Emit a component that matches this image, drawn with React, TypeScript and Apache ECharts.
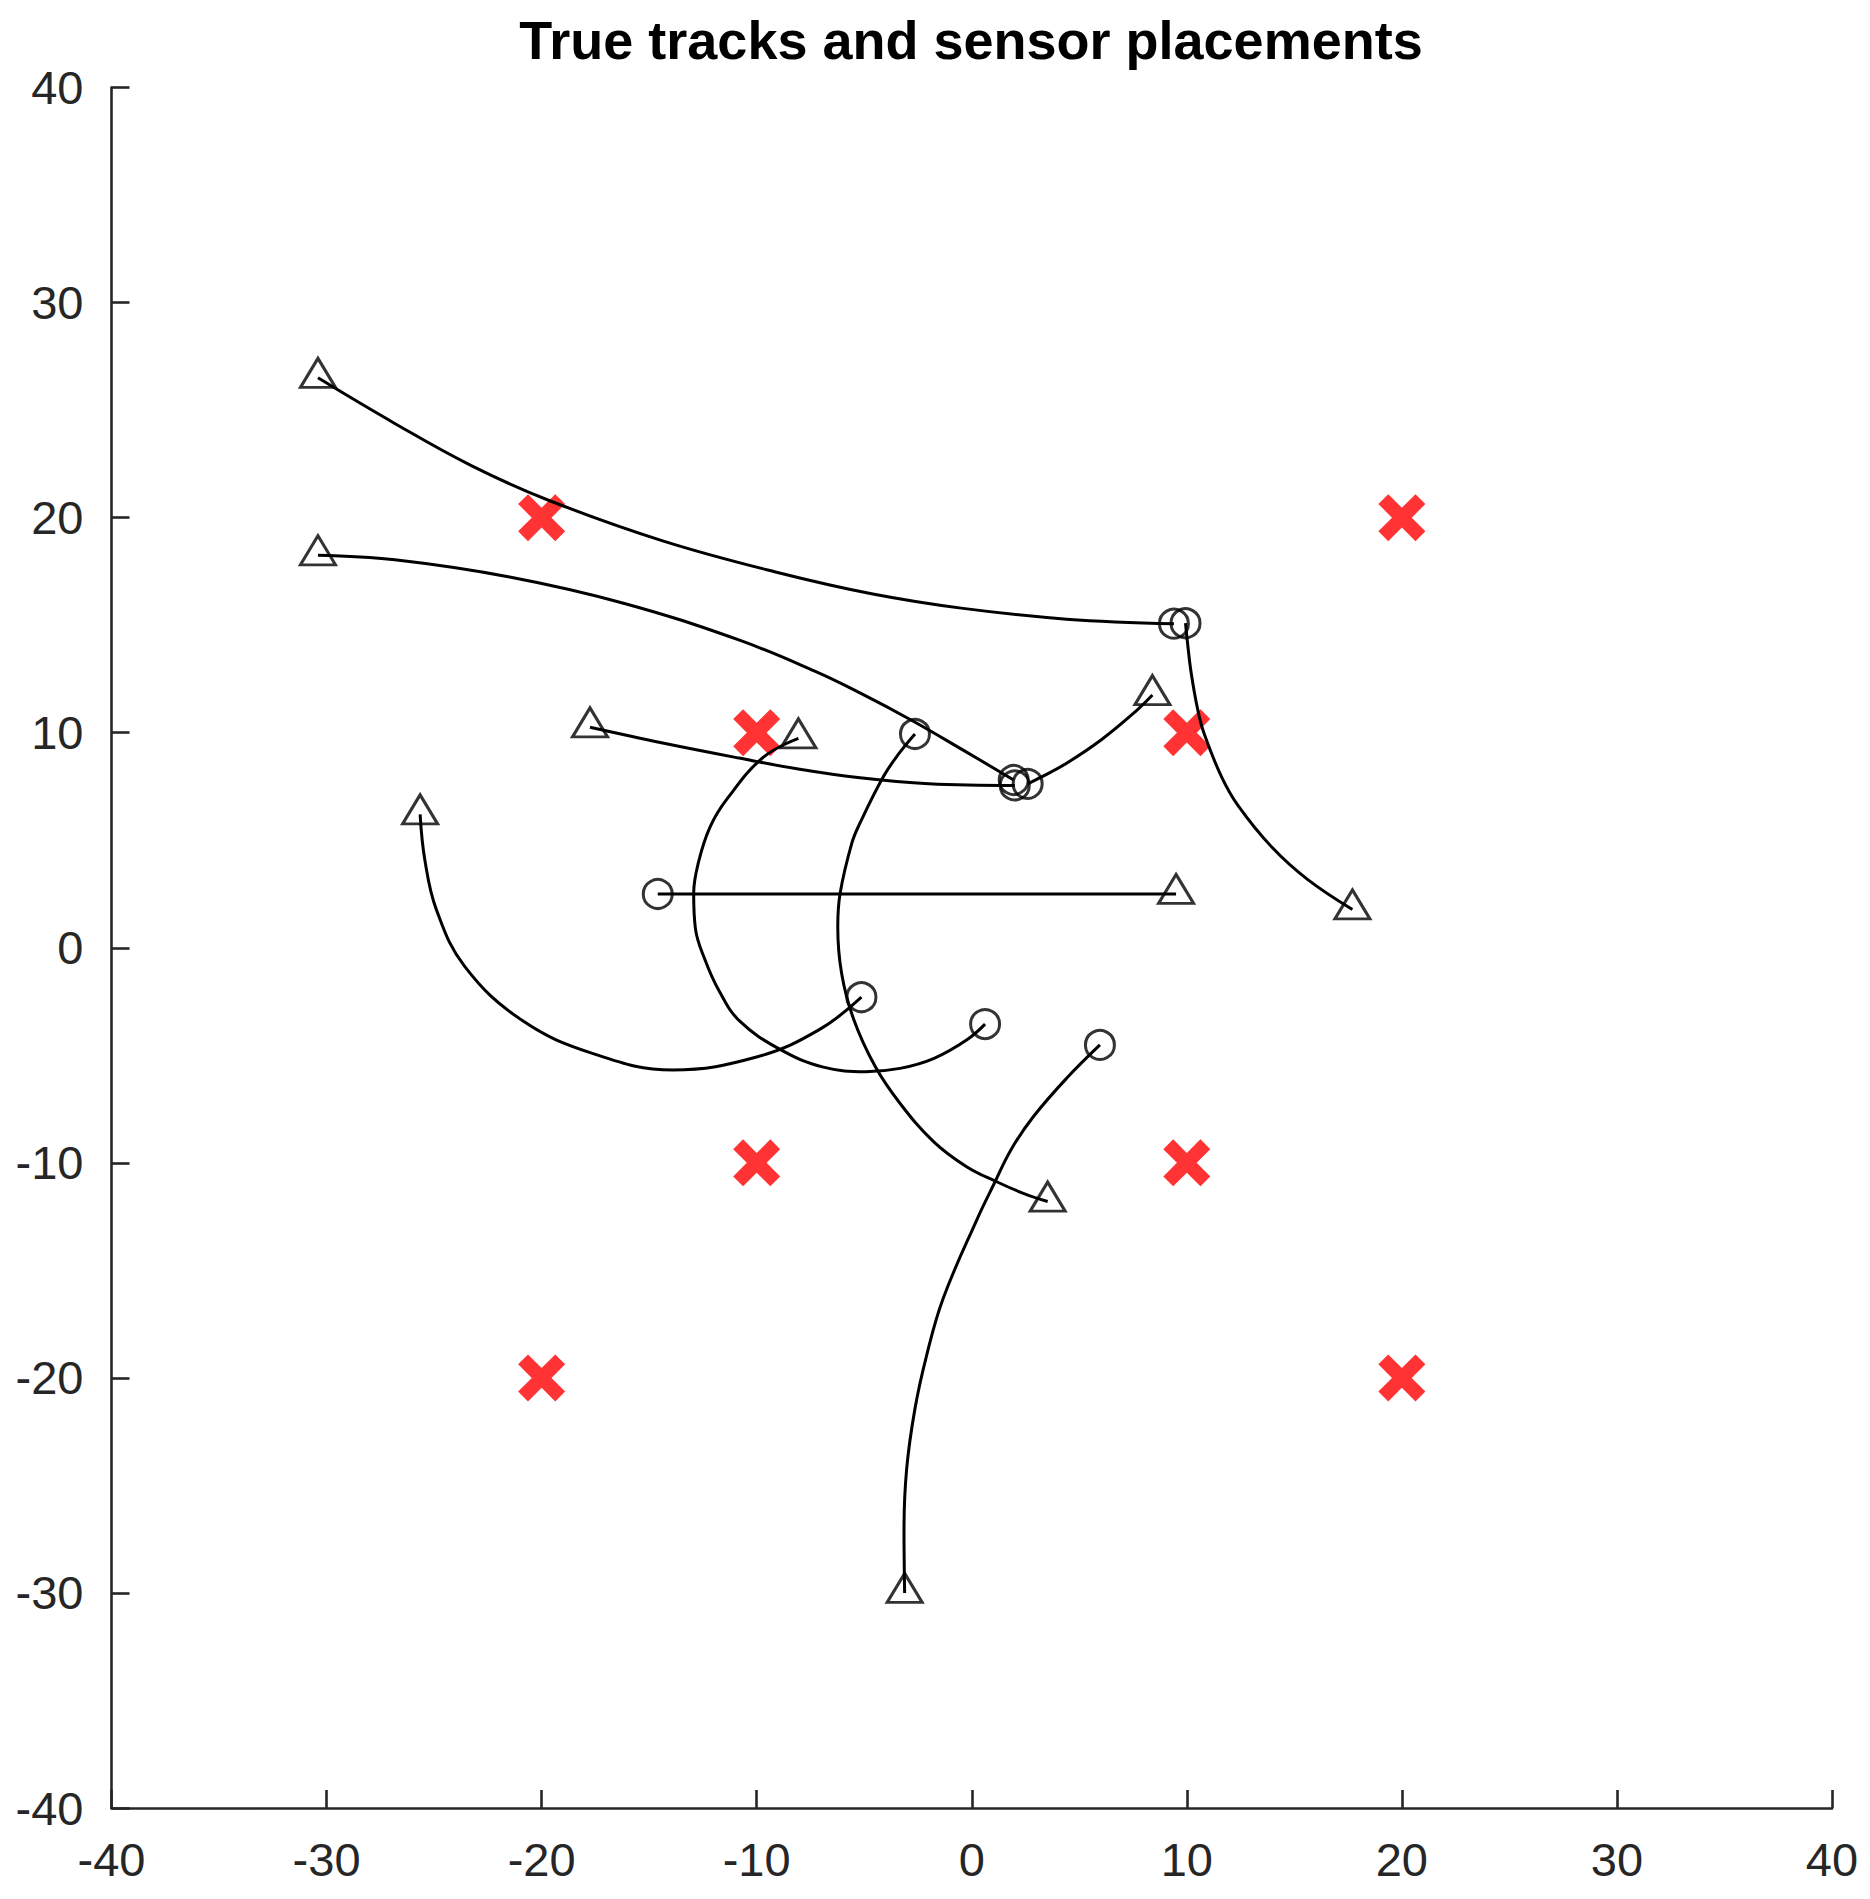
import React, { useEffect, useRef } from "react";
import * as echarts from "echarts";

// Sensor placements (red X)
const sensorX = [-20, 20, -10, 10, -10, 10, -20, 20];
const sensorY = [20, 20, 10, 10, -10, -10, -20, -20];

// True tracks: each starts at a circle and ends at a triangle
const trackA = [[9.4, 15.07], [4.41, 15.28], [-0.4, 15.78], [-4.6, 16.45], [-9.03, 17.45], [-14.37, 18.92], [-19.71, 20.82], [-23.27, 22.42], [-26.83, 24.38], [-30.4, 26.5]];
const trackB = [[9.94, 15.09], [10.02, 14.3], [10.2, 12.8], [10.51, 11.06], [10.8, 9.97], [11.61, 7.96], [12.41, 6.57], [13.96, 4.67], [15.61, 3.18], [17.7, 1.78]];
const trackC = [[1.95, 7.8], [-0.4, 9.19], [-2.8, 10.58], [-5.2, 11.85], [-7.3, 12.86], [-10.8, 14.3], [-16.15, 16.01], [-21.49, 17.24], [-26.83, 18.04], [-30.4, 18.25]];
const trackD = [[2.0, 7.55], [-2.0, 7.63], [-5.2, 7.9], [-8.0, 8.3], [-10.82, 8.82], [-14.37, 9.52], [-17.75, 10.25]];
const trackE = [[2.6, 7.62], [3.2, 7.92], [4.41, 8.58], [6.01, 9.66], [7.61, 10.98], [8.4, 11.75]];
const trackF = [[0.62, -3.55], [-0.24, -4.29], [-1.75, -5.14], [-3.34, -5.61], [-4.92, -5.76], [-6.9, -5.55], [-8.87, -4.75], [-10.8, -3.4], [-11.75, -2.0], [-12.4, -0.57], [-12.85, 0.9], [-12.93, 2.53], [-12.7, 4.0], [-12.16, 5.63], [-11.37, 6.93], [-9.7, 8.85], [-8.06, 9.74]];
const trackG = [[-2.64, 9.94], [-3.4, 9.01], [-4.1, 7.97], [-5.2, 5.79], [-5.58, 4.85], [-6.12, 2.53], [-6.23, 0.98], [-6.05, -1.2], [-5.5, -3.3], [-4.5, -5.5], [-3.34, -7.23], [-1.79, -9.0], [-0.24, -10.18], [1.16, -10.88], [2.4, -11.42], [3.53, -11.8]];
const trackH = [[-5.13, -2.3], [-7.11, -3.82], [-9.96, -5.07], [-13.91, -5.68], [-17.64, -4.91], [-20.93, -3.36], [-23.57, -0.88], [-24.89, 1.76], [-25.43, 4.08], [-25.65, 6.2]];
const trackI = [[-14.6, 2.5], [9.5, 2.5]];
const trackJ = [[5.96, -4.52], [4.41, -6.07], [2.86, -7.86], [1.82, -9.4], [1.05, -10.95], [0.23, -12.66], [-1.33, -16.31], [-2.1, -18.96], [-2.64, -21.43], [-3.03, -24.27], [-3.15, -27.1], [-3.12, -30.0]];

const tracks = [trackA, trackB, trackC, trackD, trackE, trackF, trackG, trackH, trackI, trackJ];

const titleText = "True tracks and sensor placements";
const FONT = "'Liberation Sans', Arial, Helvetica, sans-serif";
const AXIS_COLOR = "#262626";

const xSymbol =
  "path://M2.1,0 L5,2.9 L7.9,0 L10,2.1 L7.1,5 L10,7.9 L7.9,10 L5,7.1 L2.1,10 L0,7.9 L2.9,5 L0,2.1 Z";

export default function App() {
  const ref = useRef<HTMLDivElement>(null);

  useEffect(() => {
    if (!ref.current) return;
    const chart = echarts.init(ref.current, undefined, { renderer: "svg" });

    const axisCommon = {
      type: "value" as const,
      min: -40,
      max: 40,
      interval: 10,
      axisLine: { show: true, onZero: false, lineStyle: { color: AXIS_COLOR, width: 2.6 } },
      axisTick: { show: true, inside: true, length: 18, lineStyle: { color: AXIS_COLOR, width: 2.6 } },
      splitLine: { show: false },
      axisLabel: { color: AXIS_COLOR, fontSize: 47, fontFamily: FONT, showMinLabel: true, showMaxLabel: true },
    };

    const lineSeries = tracks.map((t, i) => ({
      name: "track" + i,
      type: "line",
      data: t,
      smooth: 0.4,
      showSymbol: false,
      symbol: "none",
      z: 2,
      lineStyle: { color: "#000", width: 3 },
      silent: true,
    }));

    chart.setOption({
      animation: false,
      backgroundColor: "#fff",
      title: {
        text: titleText,
        left: 966,
        top: 8,
        textAlign: "center",
        textStyle: { fontSize: 54, fontWeight: "bold", color: "#000", fontFamily: FONT },
      },
      grid: { left: 111.5, top: 87.5, width: 1720.5, height: 1720.5, containLabel: false },
      xAxis: { ...axisCommon, axisLabel: { ...axisCommon.axisLabel, margin: 28 } },
      yAxis: { ...axisCommon, axisLabel: { ...axisCommon.axisLabel, margin: 28 } },
      series: [
        {
          name: "sensors",
          type: "scatter",
          data: sensorX.map((x, i) => [x, sensorY[i]]),
          symbol: xSymbol,
          symbolSize: 47,
          z: 1,
          itemStyle: { color: "#ff0000" },
          silent: true,
        },
        ...lineSeries,
        {
          name: "circles",
          type: "scatter",
          data: tracks.map((t) => t[0]),
          symbol: "circle",
          symbolSize: 29,
          z: 3,
          itemStyle: { color: "rgba(0,0,0,0)", borderColor: "#000", borderWidth: 3 },
          silent: true,
        },
        {
          name: "triangles",
          type: "scatter",
          data: tracks.map((t) => t[t.length - 1]),
          symbol: "triangle",
          symbolSize: [35, 29],
          symbolOffset: [0, -5],
          z: 3,
          itemStyle: { color: "rgba(0,0,0,0)", borderColor: "#000", borderWidth: 3 },
          silent: true,
        },
      ],
    });

    return () => chart.dispose();
  }, []);

  return (
    <div
      ref={ref}
      style={{ position: "absolute", left: 0, top: 0, width: 1870, height: 1899, background: "#fff" }}
    />
  );
}
